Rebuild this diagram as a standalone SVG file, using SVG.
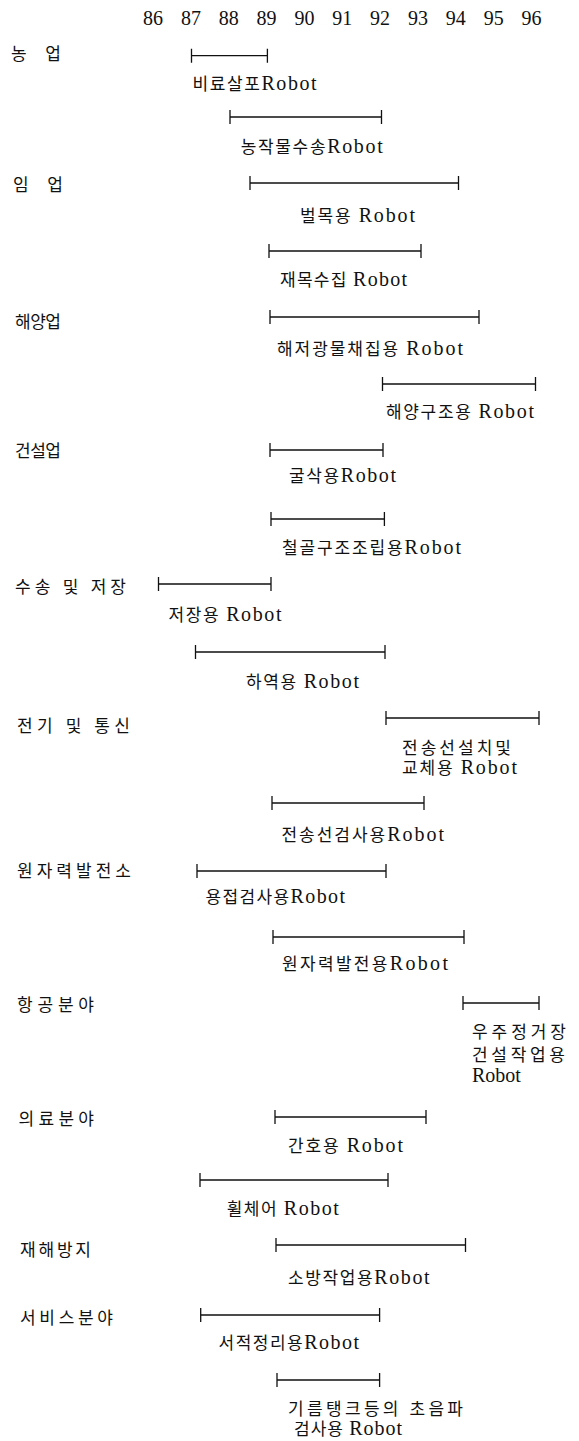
<svg xmlns="http://www.w3.org/2000/svg" width="579" height="1441" viewBox="0 0 579 1441">
<style>
text{font-family:"Liberation Serif","Noto Sans CJK KR",serif;fill:#111;}
.yr{font-size:20px;text-anchor:middle;}
.cat{font-size:17px;}
.lb{font-size:17px;}
.r{font-size:20px;}
.bar{stroke:#111;stroke-width:1.3;fill:none;}
</style>
<rect width="579" height="1441" fill="#fff"/>
<g id="header">
<text class="yr" x="153" y="25">86</text>
<text class="yr" x="190.9" y="25">87</text>
<text class="yr" x="228.7" y="25">88</text>
<text class="yr" x="266.6" y="25">89</text>
<text class="yr" x="304.4" y="25">90</text>
<text class="yr" x="342.3" y="25">91</text>
<text class="yr" x="380.1" y="25">92</text>
<text class="yr" x="418" y="25">93</text>
<text class="yr" x="455.8" y="25">94</text>
<text class="yr" x="493.7" y="25">95</text>
<text class="yr" x="531.5" y="25">96</text>
</g>
<g id="categories">
<text class="cat" x="11" y="59.5" textLength="50" lengthAdjust="spacing">농 업</text>
<text class="cat" x="13" y="190.5" textLength="50" lengthAdjust="spacing">임 업</text>
<text class="cat" x="15" y="328" textLength="46" lengthAdjust="spacing">해양업</text>
<text class="cat" x="15" y="457" textLength="46" lengthAdjust="spacing">건설업</text>
<text class="cat" x="15" y="593" textLength="111" lengthAdjust="spacing">수송 및 저장</text>
<text class="cat" x="17" y="731.5" textLength="113" lengthAdjust="spacing">전기 및 통신</text>
<text class="cat" x="17" y="877" textLength="114" lengthAdjust="spacing">원자력발전소</text>
<text class="cat" x="17" y="1011" textLength="77" lengthAdjust="spacing">항공분야</text>
<text class="cat" x="18.5" y="1125" textLength="75.5" lengthAdjust="spacing">의료분야</text>
<text class="cat" x="20" y="1256" textLength="71" lengthAdjust="spacing">재해방지</text>
<text class="cat" x="20" y="1324" textLength="93" lengthAdjust="spacing">서비스분야</text>
</g>
<g id="connectors">
<path class="bar" d="M191.5 55.7H267.4M191.5 48.7V62.7M267.4 48.7V62.7"/>
<path class="bar" d="M230 117H381.5M230 110V124M381.5 110V124"/>
<path class="bar" d="M250 183H458.5M250 176V190M458.5 176V190"/>
<path class="bar" d="M269 251H421M269 244V258M421 244V258"/>
<path class="bar" d="M270 317H479M270 310V324M479 310V324"/>
<path class="bar" d="M382.5 384H535.5M382.5 377V391M535.5 377V391"/>
<path class="bar" d="M270 450H383M270 443V457M383 443V457"/>
<path class="bar" d="M271 519H384.4M271 512V526M384.4 512V526"/>
<path class="bar" d="M158.5 584H271M158.5 577V591M271 577V591"/>
<path class="bar" d="M195.5 652H385M195.5 645V659M385 645V659"/>
<path class="bar" d="M386 718H539M386 711V725M539 711V725"/>
<path class="bar" d="M272 803H424M272 796V810M424 796V810"/>
<path class="bar" d="M197 871H386M197 864V878M386 864V878"/>
<path class="bar" d="M273 937H464M273 930V944M464 930V944"/>
<path class="bar" d="M463 1003H539M463 996V1010M539 996V1010"/>
<path class="bar" d="M275 1117H426M275 1110V1124M426 1110V1124"/>
<path class="bar" d="M200 1180H388M200 1173V1187M388 1173V1187"/>
<path class="bar" d="M276 1245H465.5M276 1238V1252M465.5 1238V1252"/>
<path class="bar" d="M200.7 1315H379.6M200.7 1308V1322M379.6 1308V1322"/>
<path class="bar" d="M277 1380H379.6M277 1373V1387M379.6 1373V1387"/>
</g>
<g id="n1"><text class="lb" x="192.6" y="90" textLength="124" lengthAdjust="spacing">비료살포<tspan class="r">Robot</tspan></text></g>
<g id="n2"><text class="lb" x="240.7" y="153" textLength="142" lengthAdjust="spacing">농작물수송<tspan class="r">Robot</tspan></text></g>
<g id="n3"><text class="lb" x="300" y="222" textLength="115" lengthAdjust="spacing">벌목용 <tspan class="r">Robot</tspan></text></g>
<g id="n4"><text class="lb" x="280" y="286" textLength="127" lengthAdjust="spacing">재목수집 <tspan class="r">Robot</tspan></text></g>
<g id="n5"><text class="lb" x="277" y="355" textLength="186" lengthAdjust="spacing">해저광물채집용 <tspan class="r">Robot</tspan></text></g>
<g id="n6"><text class="lb" x="386" y="418" textLength="148" lengthAdjust="spacing">해양구조용 <tspan class="r">Robot</tspan></text></g>
<g id="n7"><text class="lb" x="289" y="482" textLength="107" lengthAdjust="spacing">굴삭용<tspan class="r">Robot</tspan></text></g>
<g id="n8"><text class="lb" x="282" y="554" textLength="179" lengthAdjust="spacing">철골구조조립용<tspan class="r">Robot</tspan></text></g>
<g id="n9"><text class="lb" x="168.5" y="621" textLength="113" lengthAdjust="spacing">저장용 <tspan class="r">Robot</tspan></text></g>
<g id="n10"><text class="lb" x="246" y="688" textLength="113" lengthAdjust="spacing">하역용 <tspan class="r">Robot</tspan></text></g>
<g id="n11"><text class="lb" x="402" y="754" textLength="109" lengthAdjust="spacing">전송선설치및</text><text class="lb" x="402" y="774" textLength="115" lengthAdjust="spacing">교체용 <tspan class="r">Robot</tspan></text></g>
<g id="n12"><text class="lb" x="281.5" y="841" textLength="162.5" lengthAdjust="spacing">전송선검사용<tspan class="r">Robot</tspan></text></g>
<g id="n13"><text class="lb" x="205.5" y="903" textLength="139.5" lengthAdjust="spacing">용접검사용<tspan class="r">Robot</tspan></text></g>
<g id="n14"><text class="lb" x="282" y="970" textLength="166" lengthAdjust="spacing">원자력발전용<tspan class="r">Robot</tspan></text></g>
<g id="n15"><text class="lb" x="472" y="1038" textLength="94" lengthAdjust="spacing">우주정거장</text><text class="lb" x="472" y="1061" textLength="93" lengthAdjust="spacing">건설작업용</text><text class="r" x="472" y="1082">Robot</text></g>
<g id="n16"><text class="lb" x="288" y="1152" textLength="115" lengthAdjust="spacing">간호용 <tspan class="r">Robot</tspan></text></g>
<g id="n17"><text class="lb" x="226.7" y="1215" textLength="112" lengthAdjust="spacing">휠체어 <tspan class="r">Robot</tspan></text></g>
<g id="n18"><text class="lb" x="288" y="1284" textLength="141.6" lengthAdjust="spacing">소방작업용<tspan class="r">Robot</tspan></text></g>
<g id="n19"><text class="lb" x="218.5" y="1349" textLength="140.5" lengthAdjust="spacing">서적정리용<tspan class="r">Robot</tspan></text></g>
<g id="n20"><text class="lb" x="288" y="1415" textLength="175" lengthAdjust="spacing">기름탱크등의 초음파</text><text class="lb" x="294" y="1435" textLength="108" lengthAdjust="spacing">검사용 <tspan class="r">Robot</tspan></text></g>
</svg>
